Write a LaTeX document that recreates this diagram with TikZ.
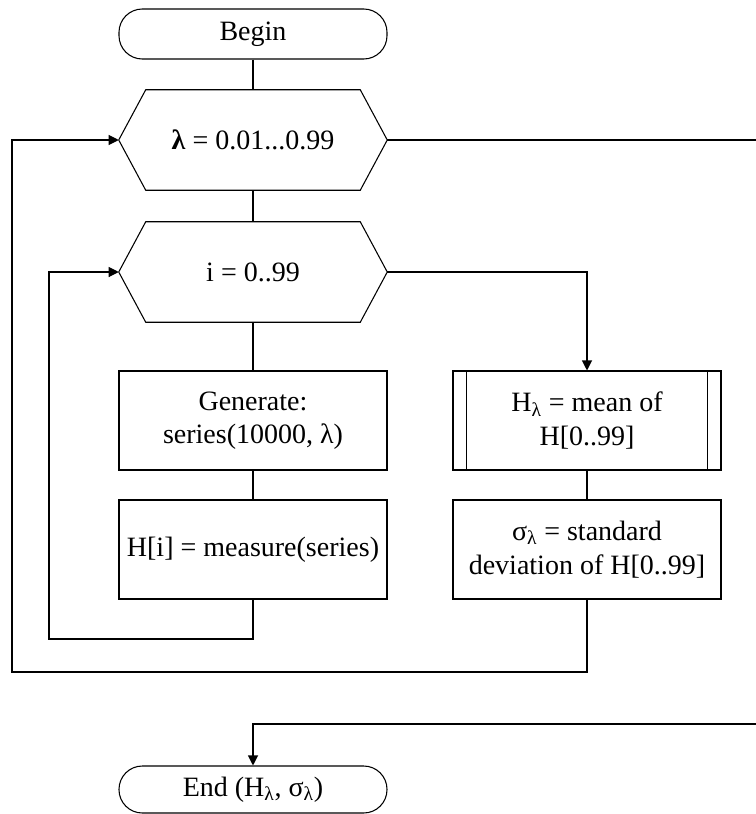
\documentclass[tikz,border=0pt]{standalone}
\usepackage{fontspec}
\setmainfont{Liberation Serif}
\usetikzlibrary{arrows.meta}
\tikzset{
  line/.style={draw=black, line width=0.8pt},
  arr/.style={line, -{Triangle[length=7.5pt,width=7.5pt]}},
  base/.style={inner sep=0pt, align=center, font=\fontsize{21}{25}\selectfont},
  term/.style={base, line, rounded corners=17.5pt, minimum width=201pt},
  hexbox/.style={base, minimum width=201pt, minimum height=75pt},
  procbox/.style={base, line, minimum width=201pt, minimum height=74.25pt},
}
\begin{document}
\begin{tikzpicture}[x=0.75pt,y=-0.75pt]
\useasboundingbox (0,0) rectangle (756,814);
% nodes
\node[term, minimum height=37.5pt] (begin) at (253,34) {Begin};
\node[hexbox] (lam) at (253,140) {\textbf{λ} = 0.01...0.99};
\node[hexbox] (ii) at (253,272) {i = 0..99};
\node[procbox] (gen) at (253,420.5) {Generate:\\series(10000, λ)};
\node[procbox] (meas) at (253,549.5) {H[i] = measure(series)};
\node[procbox] (mean) at (587,420.5) {H\textsubscript{λ} = mean of\\H[0..99]};
\node[procbox] (sd) at (587,549.5) {σ\textsubscript{λ} = standard\\deviation of H[0..99]};
\node[term, minimum height=35.25pt] (endn) at (253,789.5) {End (H\textsubscript{λ}, σ\textsubscript{λ})};
% hexagon outlines
\foreach \n in {lam,ii}{
  \draw[line] (\n.west) -- ([xshift=20.25pt]\n.north west) -- ([xshift=-20.25pt]\n.north east)
    -- (\n.east) -- ([xshift=-20.25pt]\n.south east) -- ([xshift=20.25pt]\n.south west) -- cycle;
}
% predefined-process bars
\draw[line] ([xshift=10.5pt]mean.north west) -- ([xshift=10.5pt]mean.south west);
\draw[line] ([xshift=-10.5pt]mean.north east) -- ([xshift=-10.5pt]mean.south east);
% helper coordinates
\coordinate (innerB) at (49,639);
\coordinate (outerB) at (12,672);
\coordinate (rightC) at (762,724);
% connectors
\draw[line] (begin.south) -- (lam.north);
\draw[line] (lam.south) -- (ii.north);
\draw[line] (ii.south) -- (gen.north);
\draw[line] (gen.south) -- (meas.north);
\draw[line] (mean.south) -- (sd.north);
\draw[arr] (meas.south) |- (innerB) |- (ii.west);
\draw[arr] (ii.east) -| (mean.north);
\draw[arr] (sd.south) |- (outerB) |- (lam.west);
\draw[arr] (lam.east) -| (rightC) -| (endn.north);
\end{tikzpicture}
\end{document}
